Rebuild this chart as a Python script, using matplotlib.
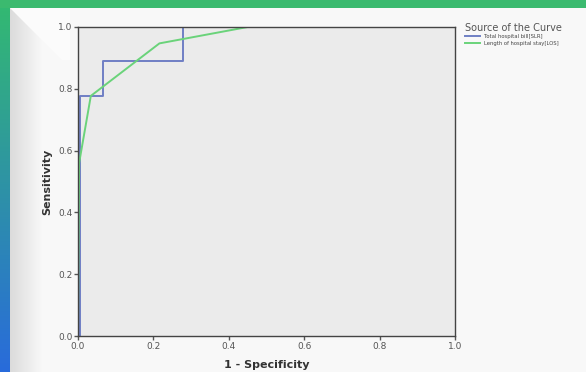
import numpy as np
import matplotlib
matplotlib.use("Agg")
import matplotlib.pyplot as plt
from matplotlib.patches import Rectangle, Polygon

# ROC curve data (1 - specificity, sensitivity)
slr_fpr = [0.0, 0.005, 0.005, 0.065, 0.065, 0.278, 0.278, 1.0]
slr_tpr = [0.0, 0.0, 0.778, 0.778, 0.889, 0.889, 1.0, 1.0]
los_fpr = [0.0, 0.003, 0.034, 0.216, 0.45, 1.0]
los_tpr = [0.0, 0.56, 0.777, 0.947, 1.0, 1.0]

series_names = ["Total hospital bill[SLR]", "Length of hospital stay[LOS]"]
series_colors = ["#6f7fc4", "#6ad37a"]
ticks = [0.0, 0.2, 0.4, 0.6, 0.8, 1.0]

W, H = 586, 372
fig = plt.figure(figsize=(W / 100, H / 100), dpi=100)

# background decoration
bg = fig.add_axes([0, 0, 1, 1])
bg.axis("off")
panel = np.ones((H, W, 3))
# left inner shade, grey -> near white
shade = np.clip((np.arange(W) - 10) / 32.0, 0, 1)
col = 0.86 + (0.975 - 0.86) * shade
for c in range(3):
    panel[:, :, c] = col[None, :]
bg.imshow(panel, extent=[0, W, H, 0], aspect="auto", zorder=0, interpolation="bilinear")
# bevel: white triangle above the diagonal at the top-left corner
bg.add_patch(Polygon([[10, 8], [70, 8], [70, 60], [62, 60]], closed=True,
                     facecolor="#fbfbfb", edgecolor="none", zorder=1))
# left colored band: green -> blue
grad = np.linspace(0, 1, H)[:, None]
top = np.array([0.20, 0.73, 0.44])
bot = np.array([0.16, 0.42, 0.86])
band = top[None, None, :] * (1 - grad[:, :, None]) + bot[None, None, :] * grad[:, :, None]
bg.imshow(np.repeat(band, 2, axis=1), extent=[0, 10, H, 0], aspect="auto", zorder=2)
bg.add_patch(Rectangle((0, 0), W, 8, facecolor="#3bba6f", edgecolor="none", zorder=3))
bg.set_xlim(0, W)
bg.set_ylim(H, 0)

# main ROC axes
ax = fig.add_axes([78 / W, (H - 336) / H, (455 - 78) / W, (336 - 27) / H])
ax.set_facecolor("#ebebeb")
ax.plot(slr_fpr, slr_tpr, color=series_colors[0], lw=1.4, label=series_names[0])
ax.plot(los_fpr, los_tpr, color=series_colors[1], lw=1.4, label=series_names[1])
ax.set_xlim(0, 1)
ax.set_ylim(0, 1)
ax.set_xticks(ticks)
ax.set_yticks(ticks)
ax.set_xticklabels([f"{t:.1f}" for t in ticks])
ax.set_yticklabels([f"{t:.1f}" for t in ticks])
ax.tick_params(labelsize=6.5, colors="#555555", length=3, width=1, pad=1)
for s in ax.spines.values():
    s.set_color("#444444")
    s.set_linewidth(1.0)
ax.set_xlabel("1 - Specificity", fontsize=8, fontweight="bold", color="#333333", labelpad=7)
ax.set_ylabel("Sensitivity", fontsize=8, fontweight="bold", color="#333333", labelpad=4)

leg = fig.legend(loc="upper left", bbox_to_anchor=(462 / W, 1 - 20 / H), frameon=False,
                 title="Source of the Curve", fontsize=3.8, title_fontsize=7,
                 handlelength=3, handletextpad=0.6, labelspacing=0.3, borderpad=0)
leg._legend_box.align = "left"
leg.get_title().set_color("#555555")
for t in leg.get_texts():
    t.set_color("#444444")

fig.savefig("out.png", dpi=100)
